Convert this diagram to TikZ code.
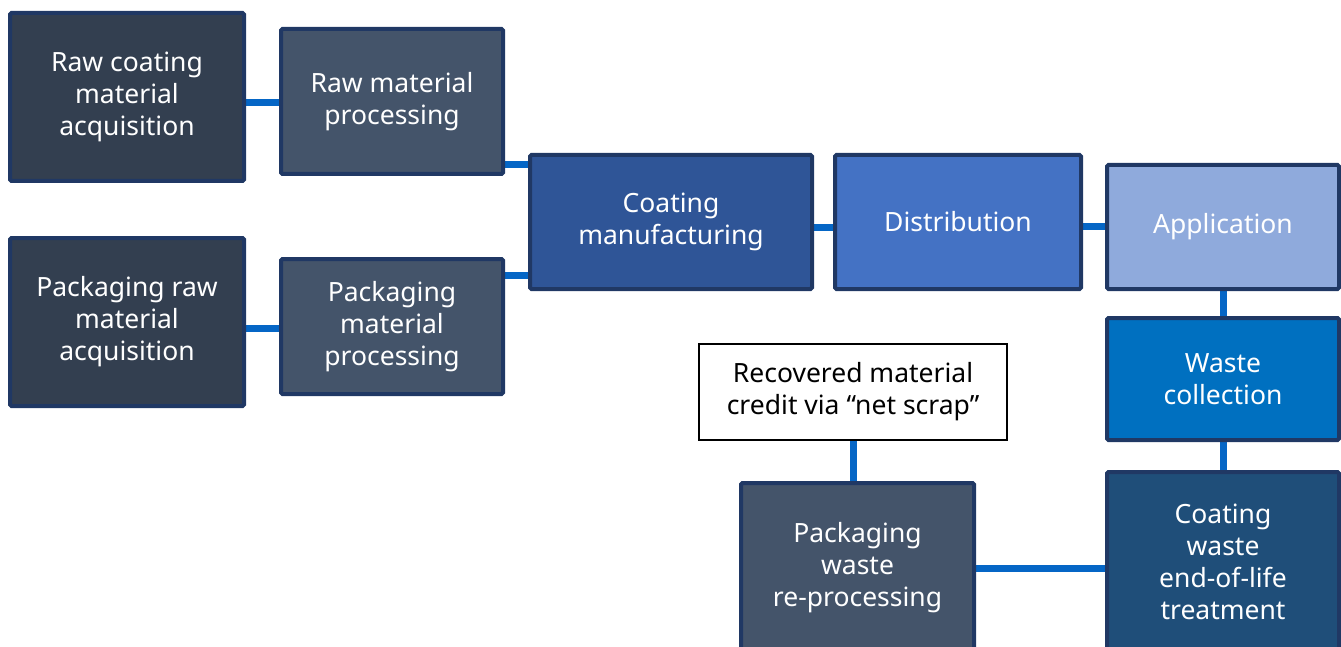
\documentclass[tikz,border=0pt]{standalone}
\usepackage{fontspec}
\setmainfont{Noto Sans}
\usepackage{xcolor}
\usetikzlibrary{positioning,calc,backgrounds}
\definecolor{edgenavy}{HTML}{203864}
\definecolor{linkblue}{HTML}{0566C6}
\definecolor{darkslate}{HTML}{333F50}
\definecolor{slate}{HTML}{44546A}
\definecolor{manuf}{HTML}{2F5597}
\definecolor{distr}{HTML}{4472C4}
\definecolor{appl}{HTML}{8FAADC}
\definecolor{wastec}{HTML}{0070C0}
\definecolor{eol}{HTML}{1F4E79}

\begin{document}
\begin{tikzpicture}[x=1pt, y=-1pt,
  stage/.style={rectangle, draw=edgenavy, line width=4pt, rounded corners=1.5pt, align=center, text=white, font=\fontsize{26.5}{32}\selectfont, inner sep=0pt, outer sep=0pt},
  note/.style={rectangle, draw=black, line width=1.5pt, fill=white, align=center, text=black, font=\fontsize{26.5}{32}\selectfont, inner sep=0pt, outer sep=0pt},
  link/.style={draw=linkblue, line width=7pt}
]
\useasboundingbox (0,0) rectangle (1341,647);
\clip (0,0) rectangle (1341,647);

% Upstream: acquisition and processing
\node[stage, fill=darkslate, minimum width=234, minimum height=168] (rawacq) at (127,97) {Raw coating\\material\\acquisition};
\node[stage, fill=slate, minimum width=222, minimum height=145] (rawproc) at (392,101.5) {Raw material\\processing};
\node[stage, fill=darkslate, minimum width=234, minimum height=168] (packacq) at (127,322) {Packaging raw\\material\\acquisition};
\node[stage, fill=slate, minimum width=222, minimum height=135] (packproc) at (392,326.5) {Packaging\\material\\processing};

% Main chain
\node[stage, fill=manuf, minimum width=282, minimum height=134] (manuf) at (671,222) {Coating\\manufacturing};
\node[stage, fill=distr, minimum width=246, minimum height=134] (distr) at (958,222) {Distribution};
\node[stage, fill=appl, minimum width=232, minimum height=124] (appl) at (1223,227) {Application};
\node[stage, fill=wastec, minimum width=232, minimum height=122] (collect) at (1223,379) {Waste\\collection};
\node[stage, fill=eol, minimum width=232, minimum height=180] (eol) at (1223,562) {Coating\\waste\\end-of-life\\treatment};

% Packaging loop
\node[stage, fill=slate, minimum width=233, minimum height=170] (reproc) at (857.5,568) {Packaging\\waste\\re-processing};
\node[note, minimum width=308, minimum height=96] (credit) at (853,392) {Recovered material\\credit via “net scrap”};

% Connectors
\begin{scope}[on background layer]
\draw[link] ($(rawproc.west)+(0,1.5)$) -- (rawacq.east |- {$(rawproc.west)+(0,1.5)$});
\draw[link] ($(packproc.west)+(0,1.5)$) -- (packacq.east |- {$(packproc.west)+(0,1.5)$});
\draw[link] ($(rawproc.south east)+(0,-9)$) coordinate (rp) -- (rp -| manuf.west);
\draw[link] ($(packproc.north east)+(0,16.5)$) coordinate (pp) -- (pp -| manuf.west);
\draw[link] ($(manuf.east)+(0,6)$) coordinate (me) -- (me -| distr.west);
\draw[link] (appl.west) -- (appl.west -| distr.east);
\draw[link] (appl.south) -- (collect.north);
\draw[link] (collect.south) -- (eol.north);
\draw[link] (reproc.east) -- (reproc.east -| eol.west);
\draw[link] (credit.south) -- (credit.south |- reproc.north);
\end{scope}

\end{tikzpicture}
\end{document}
